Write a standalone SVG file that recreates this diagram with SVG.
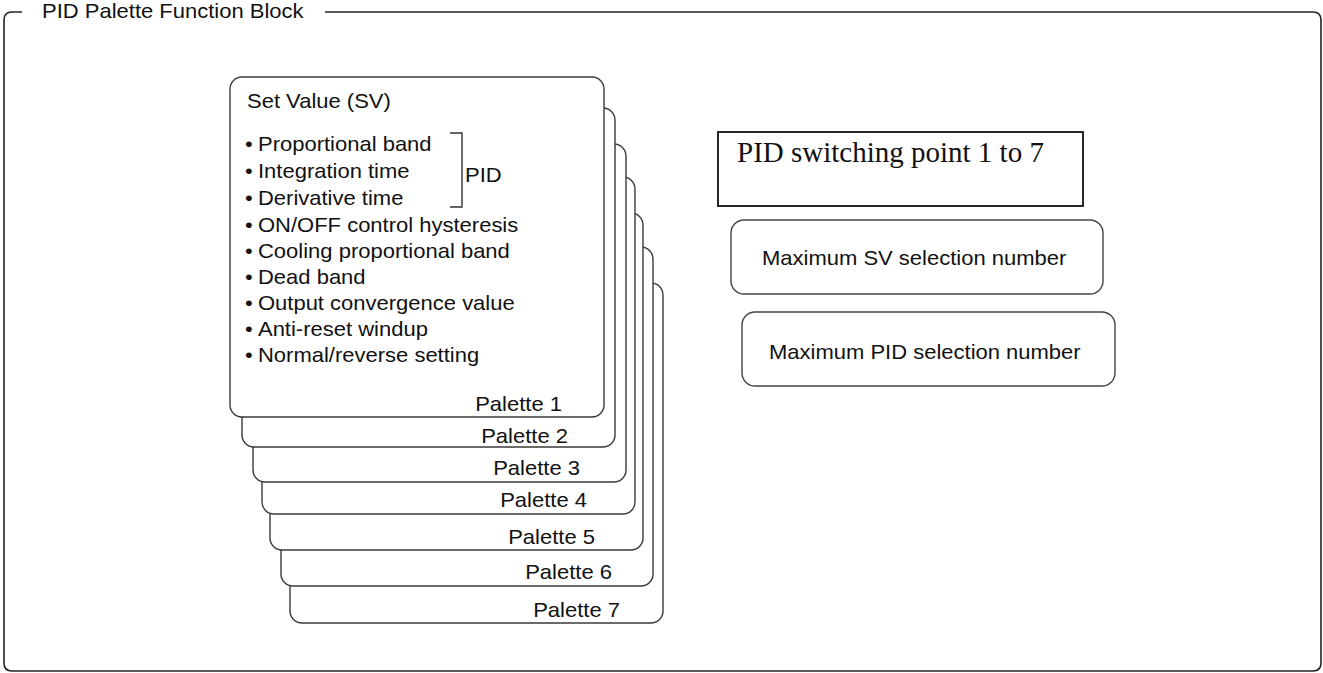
<svg xmlns="http://www.w3.org/2000/svg" width="1323" height="673" viewBox="0 0 1323 673">
<style>
.s{font-family:"Liberation Sans",Arial,sans-serif;font-size:20px;fill:#111}
.card{fill:#fff;stroke:#3a3a3a;stroke-width:1.4}
.rb{fill:#fff;stroke:#444;stroke-width:1.4}
.frame{fill:none;stroke:#222;stroke-width:1.6}
</style>
<rect width="1323" height="673" fill="#fff"/>
<g id="frame">
<path class="frame" d="M22 12 H12 Q4 12 4 20 V663 Q4 671 12 671 H1313 Q1321 671 1321 663 V20 Q1321 12 1313 12 H325"/>
<text class="s" transform="translate(42,18) scale(1.1,1)">PID Palette Function Block</text>
</g>
<g id="palette7"><rect class="card" x="290" y="283" width="373" height="340" rx="12"/><text class="s" text-anchor="end" transform="translate(620,617) scale(1.1,1)">Palette 7</text></g>
<g id="palette6"><rect class="card" x="281" y="247" width="372" height="339" rx="12"/><text class="s" text-anchor="end" transform="translate(612,579) scale(1.1,1)">Palette 6</text></g>
<g id="palette5"><rect class="card" x="270" y="213" width="373" height="337" rx="12"/><text class="s" text-anchor="end" transform="translate(595,544) scale(1.1,1)">Palette 5</text></g>
<g id="palette4"><rect class="card" x="262" y="177" width="373" height="337" rx="12"/><text class="s" text-anchor="end" transform="translate(587,507) scale(1.1,1)">Palette 4</text></g>
<g id="palette3"><rect class="card" x="253" y="144" width="373" height="338" rx="12"/><text class="s" text-anchor="end" transform="translate(580,475) scale(1.1,1)">Palette 3</text></g>
<g id="palette2"><rect class="card" x="242" y="108" width="373" height="339" rx="12"/><text class="s" text-anchor="end" transform="translate(568,443) scale(1.1,1)">Palette 2</text></g>
<g id="palette1">
<rect class="card" x="230" y="77" width="374" height="340" rx="12"/>
<text class="s" transform="translate(247,108) scale(1.1,1)">Set Value (SV)</text>
<text class="s" transform="translate(245,151) scale(1.1,1)"><tspan x="0">•</tspan><tspan x="11.8">Proportional band</tspan></text>
<text class="s" transform="translate(245,178) scale(1.1,1)"><tspan x="0">•</tspan><tspan x="11.8">Integration time</tspan></text>
<text class="s" transform="translate(245,205) scale(1.1,1)"><tspan x="0">•</tspan><tspan x="11.8">Derivative time</tspan></text>
<text class="s" transform="translate(245,232) scale(1.1,1)"><tspan x="0">•</tspan><tspan x="11.8">ON/OFF control hysteresis</tspan></text>
<text class="s" transform="translate(245,258) scale(1.1,1)"><tspan x="0">•</tspan><tspan x="11.8">Cooling proportional band</tspan></text>
<text class="s" transform="translate(245,284) scale(1.1,1)"><tspan x="0">•</tspan><tspan x="11.8">Dead band</tspan></text>
<text class="s" transform="translate(245,310) scale(1.1,1)"><tspan x="0">•</tspan><tspan x="11.8">Output convergence value</tspan></text>
<text class="s" transform="translate(245,336) scale(1.1,1)"><tspan x="0">•</tspan><tspan x="11.8">Anti-reset windup</tspan></text>
<text class="s" transform="translate(245,362) scale(1.1,1)"><tspan x="0">•</tspan><tspan x="11.8">Normal/reverse setting</tspan></text>
<path d="M450 133 H462 V207 H450" fill="none" stroke="#333" stroke-width="1.4"/>
<text class="s" transform="translate(465,182) scale(1.1,1)">PID</text>
<text class="s" text-anchor="end" transform="translate(562,411) scale(1.1,1)">Palette 1</text>
</g>
<g id="switching">
<rect x="718" y="132" width="365" height="74" fill="#fff" stroke="#111" stroke-width="1.8"/>
<text x="737" y="162" font-family="'Liberation Serif','Times New Roman',serif" font-size="29" fill="#111">PID switching point 1 to 7</text>
</g>
<g id="maxSV">
<rect class="rb" x="731" y="220" width="372" height="74" rx="13"/>
<text class="s" transform="translate(762,265) scale(1.1,1)">Maximum SV selection number</text>
</g>
<g id="maxPID">
<rect class="rb" x="742" y="312" width="373" height="74" rx="13"/>
<text class="s" transform="translate(769,359) scale(1.1,1)">Maximum PID selection number</text>
</g>
<g id="connectors"></g>
</svg>
